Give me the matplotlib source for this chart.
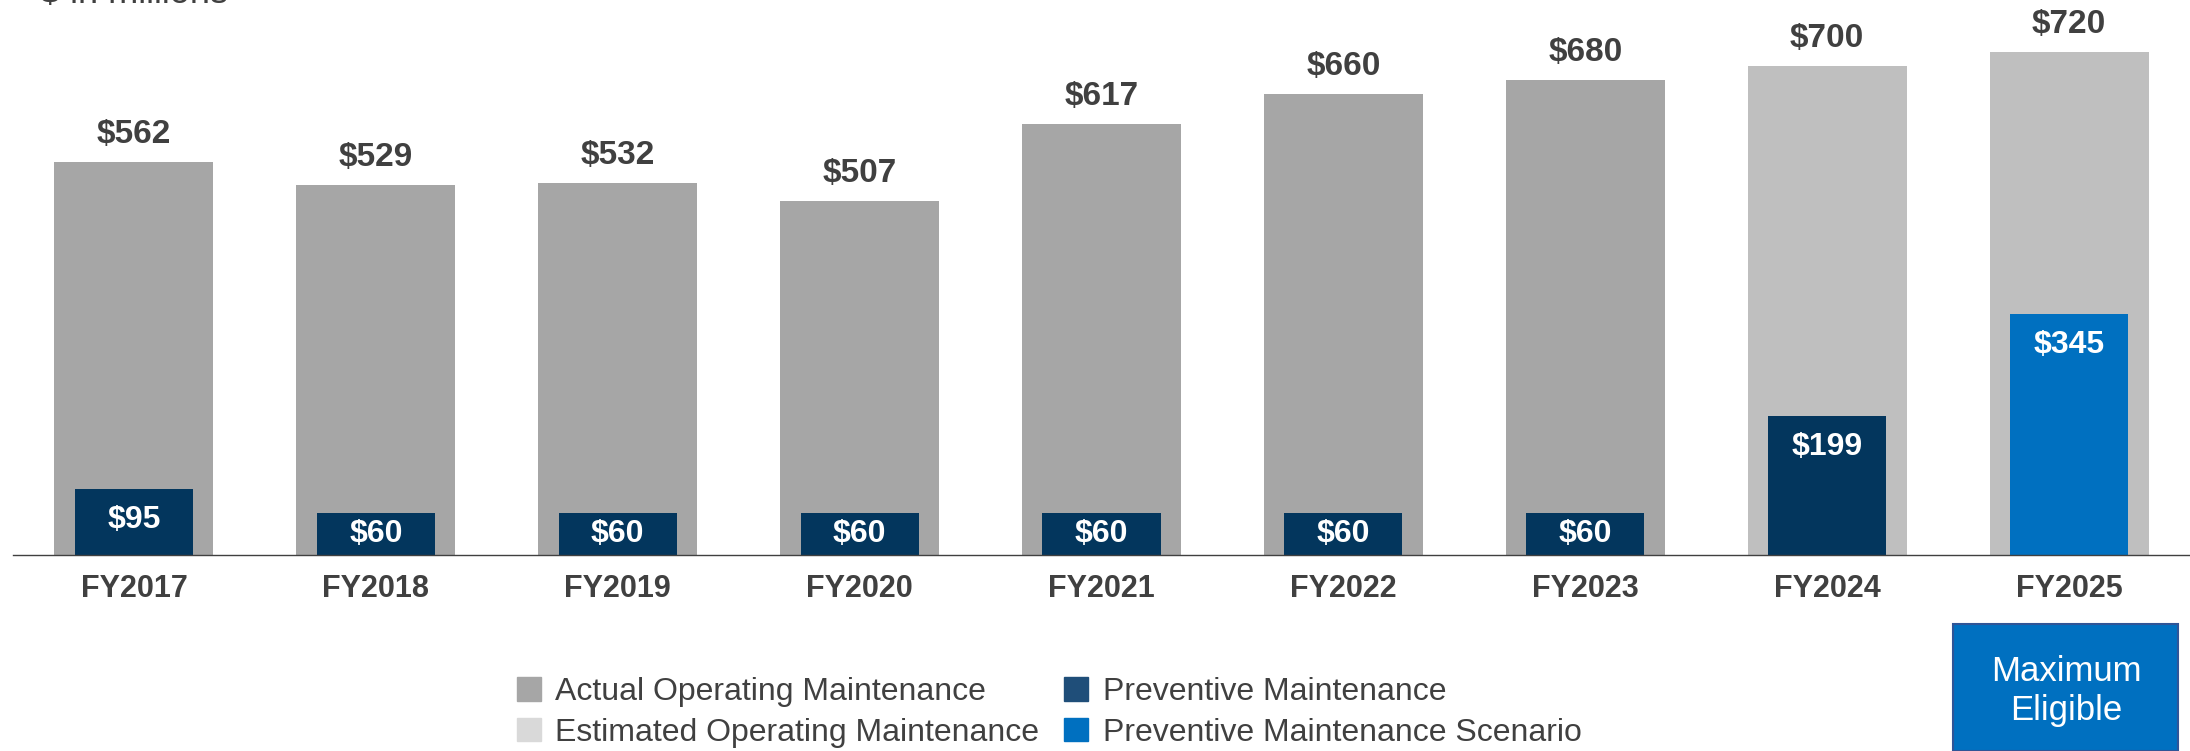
import matplotlib
matplotlib.use("Agg")
import matplotlib.pyplot as plt
from matplotlib.patches import Patch, Rectangle

# ---- data ----
years = ["FY2017", "FY2018", "FY2019", "FY2020", "FY2021", "FY2022", "FY2023", "FY2024", "FY2025"]
operating = [562, 529, 532, 507, 617, 660, 680, 700, 720]
operating_is_estimate = [False, False, False, False, False, False, False, True, True]
preventive = [95, 60, 60, 60, 60, 60, 60, 199, 345]
preventive_is_scenario = [False, False, False, False, False, False, False, False, True]
legend_labels = ["Actual Operating Maintenance", "Estimated Operating Maintenance",
                 "Preventive Maintenance", "Preventive Maintenance Scenario"]

# ---- style ----
C_ACT = "#A6A6A6"
C_EST = "#BFBFBF"
C_EST_LEG = "#D9D9D9"
C_PM = "#03365D"
C_PM_LEG = "#1F4E79"
C_SCEN = "#0070C0"
TXT = "#404040"
FONT = "Liberation Sans"

W, H = 2190, 751
fig = plt.figure(figsize=(W / 100, H / 100), dpi=100)
px_per_unit = 0.699
base_y = 555
ax = fig.add_axes([13 / W, (H - base_y) / H, (W - 13) / W, base_y / H])
ax.set_xlim(-0.5, len(years) - 0.5)
ax.set_ylim(0, base_y / px_per_unit)

x = list(range(len(years)))
outer_colors = [C_EST if e else C_ACT for e in operating_is_estimate]
inner_colors = [C_SCEN if s else C_PM for s in preventive_is_scenario]

ax.bar(x, operating, width=0.657, color=outer_colors, zorder=1)
ax.bar(x, preventive, width=0.488, color=inner_colors, zorder=2)

for i, v in enumerate(operating):
    ax.annotate(f"${v}", xy=(i, v), xytext=(0, 13.7), textcoords="offset points",
                ha="center", va="baseline", fontsize=24, fontweight="bold",
                color=TXT, family=FONT)

for i, v in enumerate(preventive):
    y = max(v / 2, v - 45)
    ax.text(i, y, f"${v}", ha="center", va="center", fontsize=23,
            fontweight="bold", color="white", family=FONT, zorder=3)

for s in ["top", "left", "right"]:
    ax.spines[s].set_visible(False)
ax.spines["bottom"].set_color(TXT)
ax.spines["bottom"].set_linewidth(1.0)
ax.set_yticks([])
ax.set_xticks(x)
ax.set_xticklabels(years, fontsize=22, fontweight="bold", color=TXT, family=FONT)
ax.tick_params(axis="x", length=0, pad=30.2)
for lab in ax.get_xticklabels():
    lab.set_va("baseline")

# units note (partially cut off at top, as in the original)
fig.text(40 / W, (H - 3) / H, "$ in millions", fontsize=26, color=TXT,
         family=FONT, ha="left", va="baseline")

# legend
handles = [Patch(color=C_ACT), Patch(color=C_EST_LEG), Patch(color=C_PM_LEG), Patch(color=C_SCEN)]
leg = fig.legend(handles, legend_labels, ncol=2, loc="upper left",
                 bbox_to_anchor=(517 / W, (H - 677) / H), frameon=False,
                 prop={"family": FONT, "size": 23},
                 handlelength=0.75, handleheight=0.75, handletextpad=0.45,
                 columnspacing=0.78, labelspacing=0.33, borderpad=0, borderaxespad=0)
for t in leg.get_texts():
    t.set_color(TXT)

# "Maximum Eligible" box
box = Rectangle((1953 / W, 0), (2178 - 1953) / W, (H - 624) / H,
                transform=fig.transFigure, facecolor=C_SCEN, edgecolor="#2F5597",
                linewidth=1.5, clip_on=False)
fig.patches.append(box)
fig.text(2066 / W, (H - 691) / H, "Maximum\nEligible", ha="center", va="center",
         fontsize=25, color="white", family=FONT, linespacing=1.21)

fig.savefig("out.png", dpi=100)
